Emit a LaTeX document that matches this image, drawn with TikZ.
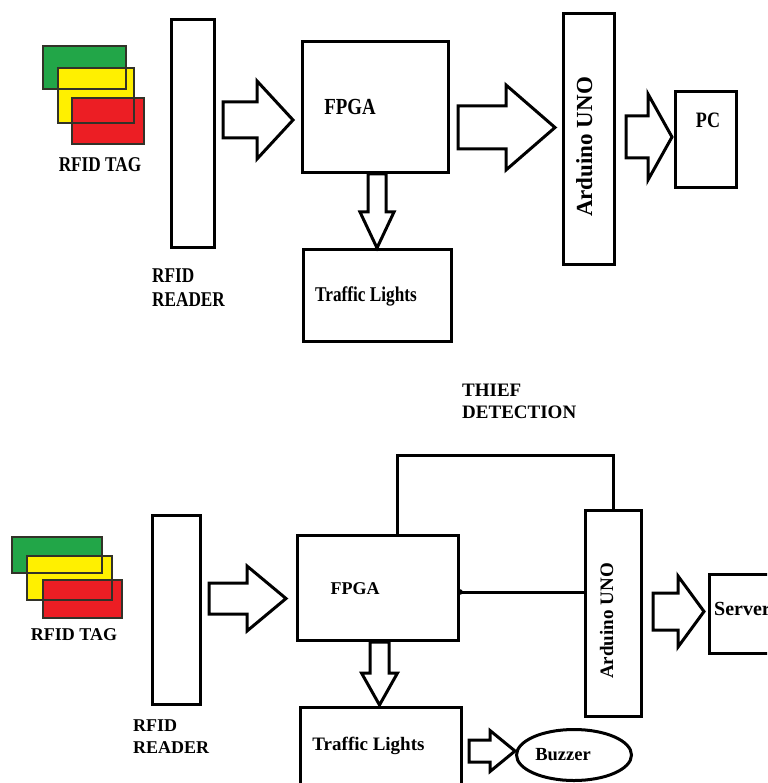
\documentclass[tikz,border=0pt]{standalone}
\usepackage{fontspec}
\setmainfont{Liberation Serif}
\newfontfamily\condfont{Liberation Serif}[FakeStretch=0.82]
\usetikzlibrary{shapes.geometric}
\definecolor{taggreen}{RGB}{34,166,72}
\definecolor{tagyellow}{RGB}{255,240,0}
\definecolor{tagred}{RGB}{236,30,36}
\definecolor{tagline}{RGB}{50,50,40}
\tikzset{
  boxA/.style={draw=black, line width=3.5pt, fill=white, inner sep=0pt},
  boxB/.style={draw=black, line width=3pt, fill=white, inner sep=0pt},
  blk/.style={draw=black, line width=3pt, fill=white, line join=miter},
  wire/.style={draw=black, line width=3pt},
  tagfill/.style={draw=none},
  tagedge/.style={draw=tagline, line width=1.6pt},
  lbl/.style={inner sep=0pt, anchor=base, font=\bfseries},
  lblw/.style={inner sep=0pt, anchor=base west, font=\bfseries},
}
\newcommand{\harrowshape}[6]{% x1 x2 x3 yc hs hh
  \draw[blk] (#1,{#4-#5}) -- (#2,{#4-#5}) -- (#2,{#4-#6}) -- (#3,#4) -- (#2,{#4+#6}) -- (#2,{#4+#5}) -- (#1,{#4+#5}) -- cycle;}
\newcommand{\varrowshape}[6]{% xc y1 y2 y3 hs hh
  \draw[blk] ({#1-#5},#2) -- ({#1-#5},#3) -- ({#1-#6},#3) -- (#1,#4) -- ({#1+#6},#3) -- ({#1+#5},#3) -- ({#1+#5},#2) -- cycle;}
\begin{document}
\begin{tikzpicture}[x=1pt,y=-1pt]
\useasboundingbox (0,0) rectangle (767,783);
\clip (0,0) rectangle (767,783);
\fill[white] (0,0) rectangle (767,783);

% ---------------- TOP DIAGRAM ----------------
% RFID tags
\fill[taggreen] (43,46) rectangle (126,89);
\fill[tagyellow] (58,68) rectangle (134,123);
\fill[tagred] (72,98) rectangle (144,144);
\draw[tagedge] (43,46) rectangle (126,89);
\draw[tagedge] (58,68) rectangle (134,123);
\draw[tagedge] (72,98) rectangle (144,144);
\node[lbl, font=\condfont\bfseries\fontsize{21}{23}\selectfont] (tag1lbl) at (100,171.5) {RFID TAG};

\node[boxA, minimum width=43pt, minimum height=228pt] (reader1) at (193,133.5) {};
\node[lblw, font=\condfont\bfseries\fontsize{21}{23}\selectfont] (reader1a) at (152,283) {RFID};
\node[lblw, font=\condfont\bfseries\fontsize{21}{23}\selectfont] (reader1b) at (152,306) {READER};

\node[boxA, minimum width=146pt, minimum height=131pt] (fpga1) at (375.5,107) {};
\node[lbl, font=\condfont\bfseries\fontsize{23}{25}\selectfont] (fpga1lbl) at (350,115) {FPGA};

\node[boxA, minimum width=148pt, minimum height=92pt] (tl1) at (377.5,295.5) {};
\node[lbl, font=\condfont\bfseries\fontsize{21}{23}\selectfont] (tl1lbl) at (366,301) {Traffic Lights};

\node[boxA, minimum width=51pt, minimum height=251pt] (ard1) at (589,139) {};
\node[lbl, rotate=90, font=\bfseries\fontsize{23}{25}\selectfont] (ard1lbl) at (592,147) {Arduino UNO};

\node[boxA, minimum width=61pt, minimum height=96pt] (pc1) at (706,139.5) {};
\node[lbl, font=\condfont\bfseries\fontsize{22}{24}\selectfont] (pc1lbl) at (708,128) {PC};

% block arrows (top)
\harrowshape{223}{257}{293}{120}{18}{39}
\harrowshape{458}{506}{555}{127.5}{21.5}{42.5}
\harrowshape{626}{648}{672}{137}{21}{43}
\varrowshape{377}{174}{212}{248}{9}{17}

% ---------------- BOTTOM DIAGRAM ----------------
\node[lblw, font=\bfseries\fontsize{19}{21}\selectfont] (thief1) at (462,396.5) {THIEF};
\node[lblw, font=\bfseries\fontsize{19}{21}\selectfont] (thief2) at (462,418) {DETECTION};

\fill[taggreen] (12,537) rectangle (102,573);
\fill[tagyellow] (27,556) rectangle (112,600);
\fill[tagred] (43,580) rectangle (122,618);
\draw[tagedge] (12,537) rectangle (102,573);
\draw[tagedge] (27,556) rectangle (112,600);
\draw[tagedge] (43,580) rectangle (122,618);
\node[lbl, font=\bfseries\fontsize{18}{20}\selectfont] (tag2lbl) at (74,640) {RFID TAG};

\node[boxB, minimum width=48pt, minimum height=189pt] (reader2) at (176.5,610) {};
\node[lblw, font=\bfseries\fontsize{18}{20}\selectfont] (reader2a) at (133,731.5) {RFID};
\node[lblw, font=\bfseries\fontsize{18}{20}\selectfont] (reader2b) at (133,753) {READER};

\node[boxB, minimum width=161pt, minimum height=105pt] (fpga2) at (378,588) {};
\node[lbl, font=\bfseries\fontsize{18}{20}\selectfont] (fpga2lbl) at (355,594) {FPGA};

\node[boxB, minimum width=161pt, minimum height=93pt] (tl2) at (381,753.5) {};
\node[lbl, font=\bfseries\fontsize{19}{21}\selectfont] (tl2lbl) at (368.5,750) {Traffic Lights};

\node[boxB, minimum width=56pt, minimum height=206pt] (ard2) at (613.5,613.5) {};
\node[lbl, rotate=90, font=\bfseries\fontsize{19}{21}\selectfont] (ard2lbl) at (613,621) {Arduino UNO};

\node[boxB, minimum width=90pt, minimum height=79pt] (server) at (754,614) {};
\node[lblw, font=\bfseries\fontsize{20}{22}\selectfont] (serverlbl) at (714,615) {Server};

\node[draw=black, line width=3pt, ellipse, fill=white, minimum width=115pt, minimum height=51pt, inner sep=0pt] (buzzer) at (574,755) {};
\node[lbl, font=\bfseries\fontsize{18.5}{20}\selectfont] (buzzerlbl) at (563,760) {Buzzer};

% wires
\coordinate (wA) at (397,455);
\coordinate (wB) at (ard2.north |- wA);
\draw[wire] (fpga2.north -| wA) -- (wA) -- (wB) -- (ard2.north);
\draw[wire] (fpga2.east |- 0,592) -- (ard2.west |- 0,592);
\fill[black] (fpga2.east |- 0,592) circle (2.8);

% block arrows (bottom)
\harrowshape{209}{247}{286}{598.5}{15.5}{32.5}
\harrowshape{653}{678}{704}{611.5}{18.5}{35.5}
\harrowshape{469}{490}{515}{751}{11}{20.5}
\varrowshape{379.5}{642}{673}{705}{9.5}{18}
\end{tikzpicture}
\end{document}
